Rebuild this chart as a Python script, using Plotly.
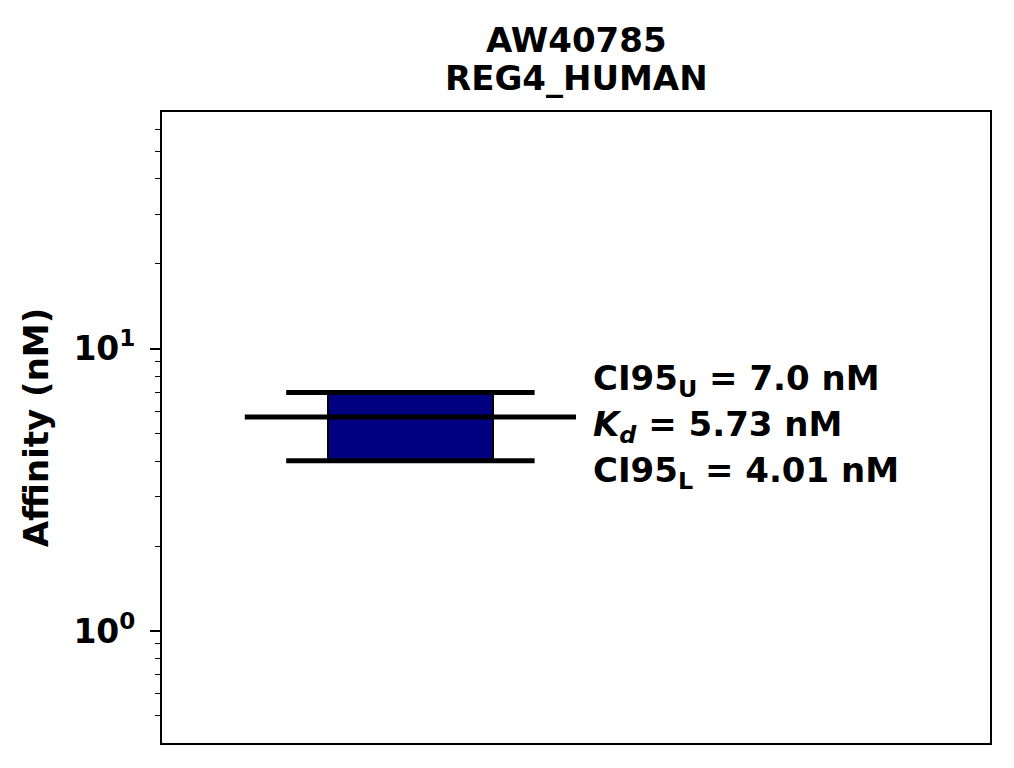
import math
import plotly.graph_objects as go

# data
compound = "AW40785"
target = "REG4_HUMAN"
kd = 5.73
ci_upper = 7.0
ci_lower = 4.01
bar_x = [0.3]
ytick_vals = [1, 10]
ytick_text = ["<b>10<sup>0</sup></b>", "<b>10<sup>1</sup></b>"]
minor_vals = [0.5, 0.6, 0.7, 0.8, 0.9, 2, 3, 4, 5, 6, 7, 8, 9, 20, 30, 40, 50, 60]

FONT = "DejaVu Sans"
BLACK = "black"

fig = go.Figure()
fig.add_trace(go.Bar(
    x=bar_x, base=[ci_lower], y=[ci_upper - ci_lower], width=0.2,
    marker=dict(color="#000080", line=dict(color=BLACK, width=2)),
    showlegend=False, hoverinfo="skip"))
for yv, half in [(ci_upper, 0.15), (ci_lower, 0.15), (kd, 0.2)]:
    fig.add_trace(go.Scatter(
        x=[bar_x[0] - half, bar_x[0] + half], y=[yv, yv], mode="lines",
        line=dict(color=BLACK, width=5), showlegend=False, hoverinfo="skip"))

lines = [
    (f"<b>CI95<sub>U</sub> = {ci_upper:.1f} nM</b>", 37),
    (f"<b><i>K<sub>d</sub></i> = {kd:.2f} nM</b>", -9),
    (f"<b>CI95<sub>L</sub> = {ci_lower:.2f} nM</b>", -55),
]
for t, sh in lines:
    fig.add_annotation(x=0.518, y=math.log10(kd), xref="x", yref="y", text=t,
                       showarrow=False, xanchor="left", yanchor="middle", align="left",
                       yshift=sh, font=dict(family=FONT, size=34, color=BLACK))

# title lines
fig.add_annotation(x=0.5, y=1.114, xref="paper", yref="paper", text=f"<b>{compound}</b>",
                   showarrow=False, xanchor="center", yanchor="middle",
                   font=dict(family=FONT, size=34, color=BLACK))
fig.add_annotation(x=0.5, y=1.054, xref="paper", yref="paper", text=f"<b>{target}</b>",
                   showarrow=False, xanchor="center", yanchor="middle",
                   font=dict(family=FONT, size=34, color=BLACK))

fig.update_layout(
    width=998, height=752,
    margin=dict(l=154, r=16, t=104, b=17),
    paper_bgcolor="white", plot_bgcolor="white",
    font=dict(family=FONT, color=BLACK),
    bargap=0,
)
fig.update_xaxes(range=[0, 1], showticklabels=False, ticks="", showgrid=False,
                 zeroline=False, showline=True, linecolor=BLACK, linewidth=2, mirror=True)
fig.update_yaxes(type="log", range=[-0.397, 1.839], tickvals=ytick_vals, ticktext=ytick_text,
                 ticks="outside", ticklen=10, tickwidth=1.5, tickcolor=BLACK,
                 ticklabelstandoff=8,
                 tickfont=dict(family=FONT, size=33, color=BLACK),
                 minor=dict(tickvals=minor_vals, ticks="outside", ticklen=5, tickwidth=1.2,
                            tickcolor=BLACK, showgrid=False),
                 showgrid=False, zeroline=False, showline=True, linecolor=BLACK,
                 linewidth=2, mirror=True,
                 title=dict(text="<b>Affinity (nM)</b>", standoff=14,
                            font=dict(family=FONT, size=34, color=BLACK)))

fig.write_html("out.html")
